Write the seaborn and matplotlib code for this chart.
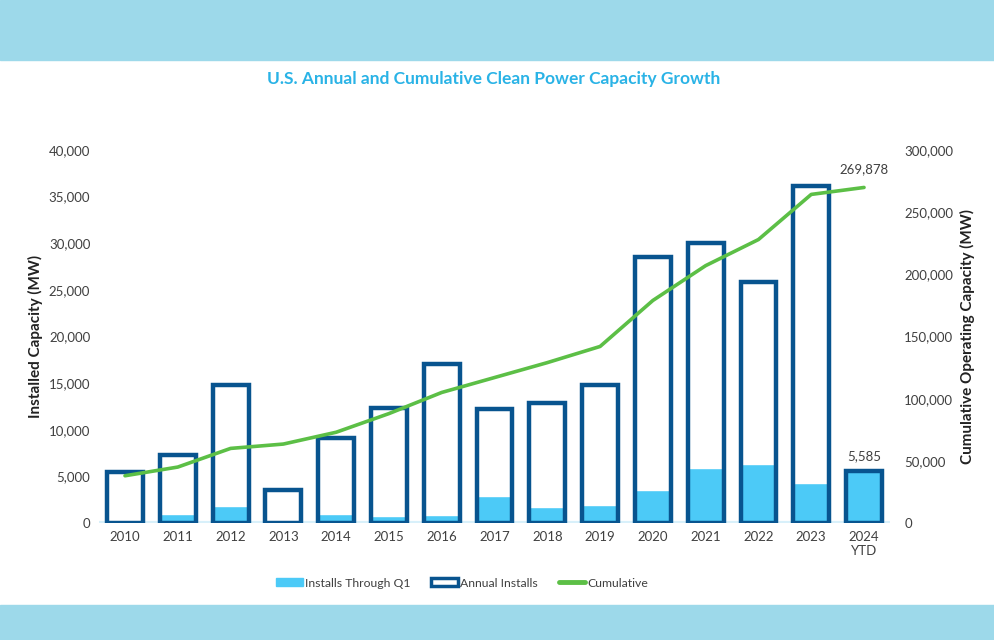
import matplotlib
matplotlib.use("Agg")
import matplotlib.pyplot as plt
from matplotlib.patches import Patch, Rectangle
from matplotlib.lines import Line2D
from matplotlib.ticker import FuncFormatter
import seaborn as sns
import pandas as pd

years = ["2010", "2011", "2012", "2013", "2014", "2015", "2016", "2017",
         "2018", "2019", "2020", "2021", "2022", "2023", "2024\nYTD"]
annual = [5500, 7300, 14800, 3500, 9100, 12300, 17000, 12200,
          12900, 14800, 28500, 30000, 25800, 36100, 5585]
q1 = [300, 1000, 1800, 100, 1000, 700, 900, 2900,
      1700, 1900, 3500, 5900, 6300, 4300, 5585]
cumulative = [38000, 45000, 60000, 63500, 73000, 88000, 105000, 117000,
              129000, 142000, 179000, 207000, 228000, 264293, 269878]

dark = "#08548f"
light = "#4ccaf7"
green = "#5cbf46"
band = "#9dd9ea"
txt = "#404040"

df = pd.DataFrame({"year": years, "annual": annual, "q1": q1,
                   "cum": cumulative, "pos": range(len(years))})

sns.set_style("white")
plt.rcParams["font.family"] = ["Lato", "DejaVu Sans"]

fig = plt.figure(figsize=(9.94, 6.4), dpi=100)
fig.patches.append(Rectangle((0, 0.906), 1, 0.094, transform=fig.transFigure,
                             color=band, zorder=0))
fig.patches.append(Rectangle((0, 0), 1, 0.0547, transform=fig.transFigure,
                             color=band, zorder=0))

ax = fig.add_axes([0.0992, 0.1828, 0.7966, 0.5828])
sns.barplot(data=df, x="year", y="q1", color=light, width=0.68,
            saturation=1, ax=ax)
sns.barplot(data=df, x="year", y="annual", color=dark, width=0.68,
            fill=False, linewidth=3.2, saturation=1, ax=ax)
ax.axhline(0, color="#d8f0fa", lw=3, zorder=0)
ax.set_ylim(0, 40000)
ax.set_xlim(-0.5, len(years) - 0.5)
ax.set_yticks(range(0, 40001, 5000))
ax.yaxis.set_major_formatter(FuncFormatter(lambda v, p: f"{int(v):,}"))
ax.set_xlabel("")
ax.set_ylabel("Installed Capacity (MW)", fontsize=11, fontweight="bold",
              color="#222222", labelpad=4)
ax.tick_params(axis="both", labelsize=9.5, colors=txt, length=0, pad=6)
sns.despine(ax=ax, left=True, bottom=True)

ax2 = ax.twinx()
sns.lineplot(data=df, x="pos", y="cum", color=green, lw=2.6, ax=ax2)
ax2.set_ylim(0, 300000)
ax2.set_yticks(range(0, 300001, 50000))
ax2.yaxis.set_major_formatter(FuncFormatter(lambda v, p: f"{int(v):,}"))
ax2.set_ylabel("Cumulative Operating Capacity (MW)", fontsize=11,
               fontweight="bold", color="#222222", labelpad=5)
ax2.tick_params(axis="y", labelsize=9.5, colors=txt, length=0, pad=10)
sns.despine(ax=ax2, left=True, bottom=True, right=True)

ax2.annotate(f"{cumulative[-1]:,}", (len(years) - 1, cumulative[-1]),
             xytext=(0, 10), textcoords="offset points", ha="center",
             fontsize=9.5, color=txt)
ax.annotate(f"{annual[-1]:,}", (len(years) - 1, annual[-1]),
            xytext=(0, 8), textcoords="offset points", ha="center",
            fontsize=9.5, color=txt)

fig.text(0.497, 0.877, "U.S. Annual and Cumulative Clean Power Capacity Growth",
         ha="center", va="center", fontsize=12.5, fontweight="bold",
         color="#2ab3e6")

handles = [Patch(facecolor=light, edgecolor=light),
           Patch(facecolor="white", edgecolor=dark, linewidth=2.5),
           Line2D([0], [0], color=green, lw=3.5)]
fig.legend(handles, ["Installs Through Q1", "Annual Installs", "Cumulative"],
           loc="center", bbox_to_anchor=(0.465, 0.089), ncol=3, frameon=False,
           fontsize=8.8, handlelength=2.2, handleheight=0.6, handletextpad=0.15,
           columnspacing=1.7, labelcolor=txt)

fig.savefig("out.png", dpi=100)
